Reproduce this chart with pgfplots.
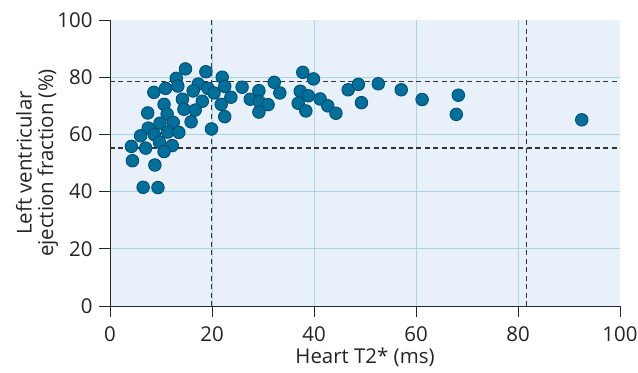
\documentclass[border=0pt]{standalone}
\usepackage{pgfplots}
\pgfplotsset{compat=1.18}
\usepackage{fontspec}
\setmainfont{Open Sans}
\definecolor{bgblue}{RGB}{232,241,249}
\definecolor{gridblue}{RGB}{168,212,234}
\definecolor{dotfill}{RGB}{0,112,155}
\definecolor{dotedge}{RGB}{0,72,108}
\definecolor{dashgray}{RGB}{50,50,50}
\definecolor{txt}{RGB}{35,35,35}
\begin{document}
\begin{tikzpicture}
\begin{axis}[
  name=ax,
  width=510bp, height=286bp, scale only axis,
  xmin=0, xmax=100, ymin=0, ymax=100,
  axis x line=bottom, axis y line=left,
  axis line style={-, draw=black!85, line width=0.9bp},
  axis background/.style={fill=bgblue},
  xtick={0,20,...,100}, ytick={0,20,...,100},
  minor xtick={20,40,60,80}, minor ytick={20,40,60,80},
  grid=minor, minor grid style={draw=gridblue, line width=0.8bp},
  minor tick length=0pt,
  tick align=outside, major tick length=11bp,
  major tick style={draw=black!85, line width=0.9bp},
  /pgf/number format/assume math mode=true,
  tick label style={font=\fontsize{20.5}{24}\selectfont, text=txt},
  xticklabel style={yshift=-6bp},
  yticklabel style={xshift=-3bp},
  label style={font=\fontsize{20.5}{21.5}\selectfont, text=txt},
  xlabel={Heart T2* (ms)},
  ylabel={Left ventricular\\ejection fraction (\%)},
  ylabel style={align=center, at={(axis description cs:-0.143,0.5)}, anchor=center},
  xlabel style={at={(axis description cs:0.5,-0.18)}, anchor=center},
]
\addplot[draw=dashgray, line width=1.3bp, dash pattern=on 5bp off 3.5bp] coordinates {(0,78.5) (100,78.5)};
\addplot[draw=dashgray, line width=1.3bp, dash pattern=on 5bp off 3.5bp] coordinates {(0,55.2) (100,55.2)};
\addplot[draw=dashgray, line width=1.3bp, dash pattern=on 5bp off 3.5bp] coordinates {(19.9,0) (19.9,100)};
\addplot[draw=dashgray, line width=1.3bp, dash pattern=on 5bp off 3.5bp] coordinates {(81.7,0) (81.7,100)};
\addplot[only marks, mark=*, mark size=6.3bp, mark options={fill=dotfill, draw=dotedge, line width=0.8bp}] coordinates {
(14.8,82.9) (18.8,81.9) (13.0,79.6) (22.0,80.0) (17.3,77.6) (13.3,76.9)
(10.9,76.1) (22.5,76.8) (19.2,76.1) (16.3,75.2) (8.6,74.7) (20.4,74.5)
(25.9,76.5) (29.2,75.3) (32.2,78.2) (33.3,74.5) (23.7,73.0) (27.5,72.3)
(29.3,71.4) (31.0,70.4) (29.2,67.8) (14.2,72.3) (18.1,71.6) (10.6,70.5)
(14.5,68.8) (16.7,68.5) (21.8,70.5) (7.4,67.5) (11.2,67.1) (22.5,66.2)
(15.9,64.4) (9.8,63.9) (12.4,64.2) (7.5,62.2) (11.3,60.8) (13.5,60.7)
(8.7,59.9) (6.0,59.5) (19.9,61.9) (9.7,57.3) (12.2,56.1) (4.2,55.8)
(7.0,55.2) (10.6,54.0) (4.4,50.8) (8.8,49.3) (6.5,41.5) (9.4,41.4)
(37.8,81.7) (39.9,79.4) (37.3,75.1) (38.9,73.5) (41.2,72.4) (42.7,70.0)
(44.3,67.4) (36.9,70.9) (38.4,68.2)
(46.7,75.6) (48.7,77.5) (49.3,71.1) (52.6,77.7) (57.1,75.6) (61.2,72.2)
(68.3,73.7) (67.9,67.0) (92.5,65.1)
};
\end{axis}
\pgfresetboundingbox
\path (ax.south west) ++(-110bp,-67bp) rectangle ++(638bp,373bp);
\end{tikzpicture}
\end{document}
